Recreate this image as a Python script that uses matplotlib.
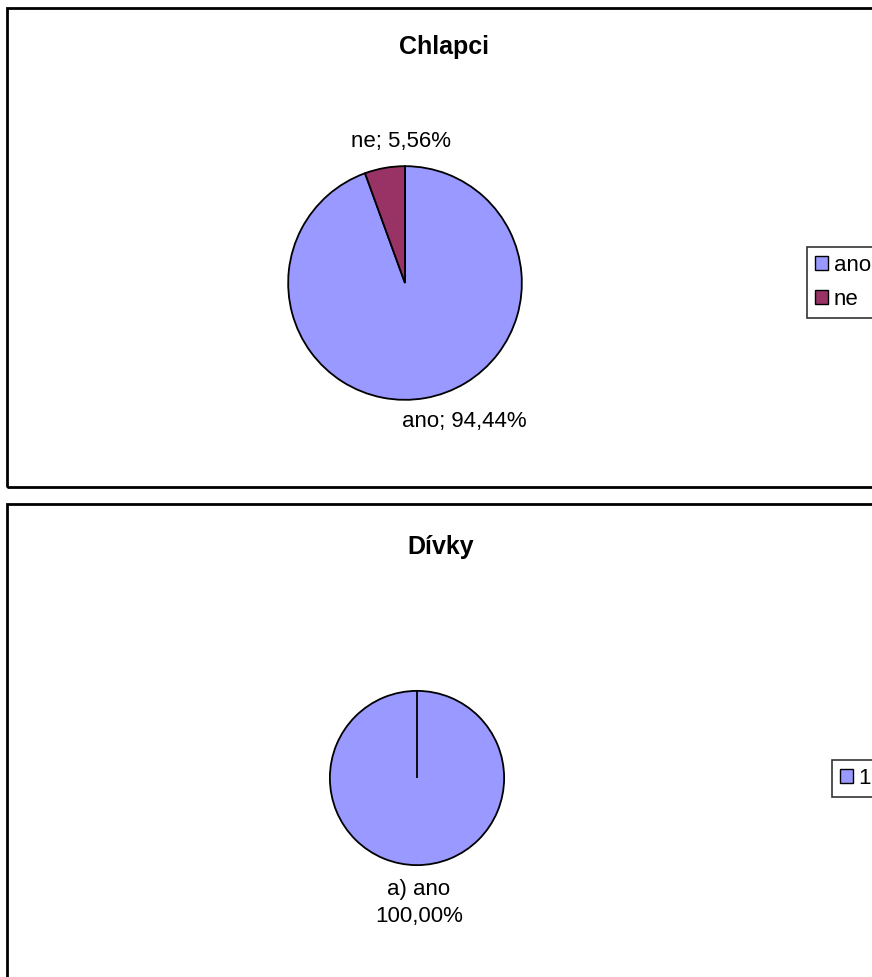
import matplotlib
matplotlib.use("Agg")
import matplotlib.pyplot as plt
from matplotlib.patches import Rectangle, Patch

plt.rcParams['font.family'] = ['Liberation Sans', 'DejaVu Sans']

W, H = 872, 977

# Data
boys_title = "Chlapci"
boys_labels = ["ano", "ne"]
boys_values = [94.44, 5.56]
boys_texts = ["ano; 94,44%", "ne; 5,56%"]

girls_title = "Dívky"
girls_values = [100.0, 0.0]
girls_legend = ["1"]
girls_text = "a) ano\n100,00%"

col_ano = "#9999FF"
col_ne = "#993366"

fig = plt.figure(figsize=(W / 100, H / 100), dpi=100)

def fx(x):
    return x / W

def fy(y):
    return 1 - y / H

# panel borders
for top, bot in [(8, 487), (504, 1100)]:
    fig.patches.append(Rectangle((fx(7), fy(bot)), fx(1000), (bot - top) / H,
                                 transform=fig.transFigure, fill=False,
                                 edgecolor="black", linewidth=2, clip_on=False))

def pie_axes(cx, cy, r):
    ax = fig.add_axes([fx(cx - r), fy(cy + r), 2 * r / W, 2 * r / H])
    ax.axis("off")
    return ax

# Boys
ax1 = pie_axes(405, 283, 118)
ax1.pie(boys_values, colors=[col_ano, col_ne], startangle=90, counterclock=False,
        radius=1, wedgeprops=dict(edgecolor="black", linewidth=1.3), frame=False)
ax1.set_xlim(-1.01, 1.01)
ax1.set_ylim(-1.01, 1.01)
fig.text(fx(444), fy(47), boys_title, ha="center", va="center", fontsize=18, fontweight="bold")
fig.text(fx(464), fy(422), boys_texts[0], ha="center", va="center", fontsize=16)
fig.text(fx(401), fy(141), boys_texts[1], ha="center", va="center", fontsize=16)

leg1 = fig.legend([Patch(facecolor=col_ano, edgecolor="black"), Patch(facecolor=col_ne, edgecolor="black")],
                  boys_labels, loc="upper left", bbox_to_anchor=(fx(807), fy(247)),
                  fontsize=16, frameon=True, fancybox=False, edgecolor="black",
                  handlelength=0.6, handleheight=0.6, handletextpad=0.25,
                  labelspacing=0.6, borderpad=0.35, borderaxespad=0)
leg1.get_frame().set_linewidth(1.2)

# Girls
ax2 = pie_axes(417, 778, 88)
ax2.pie(girls_values, colors=[col_ano, col_ne], startangle=90, counterclock=False,
        radius=1, wedgeprops=dict(edgecolor="black", linewidth=1.3), frame=False)
ax2.set_xlim(-1.01, 1.01)
ax2.set_ylim(-1.01, 1.01)
fig.text(fx(441), fy(547), girls_title, ha="center", va="center", fontsize=18, fontweight="bold")
fig.text(fx(419), fy(903), girls_text, ha="center", va="center", fontsize=16, linespacing=1.35)

leg2 = fig.legend([Patch(facecolor=col_ano, edgecolor="black")], girls_legend,
                  loc="upper left", bbox_to_anchor=(fx(832), fy(760)),
                  fontsize=16, frameon=True, fancybox=False, edgecolor="black",
                  handlelength=0.6, handleheight=0.6, handletextpad=0.25,
                  borderpad=0.35, borderaxespad=0)
leg2.get_frame().set_linewidth(1.2)

fig.savefig("out.png", dpi=100, facecolor="white")
